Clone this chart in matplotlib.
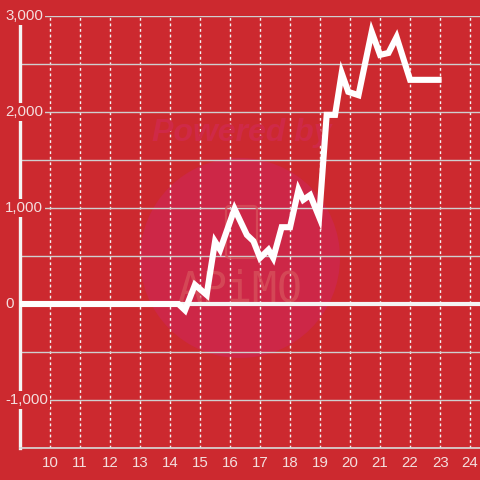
import matplotlib.pyplot as plt
from matplotlib.patches import Circle, FancyBboxPatch
from matplotlib.transforms import blended_transform_factory

# values
hours = [9.0, 14.28, 14.5, 14.83, 15.22, 15.5, 15.67, 16.15, 16.56, 16.78,
         17.0, 17.28, 17.44, 17.72, 18.0, 18.28, 18.44, 18.67, 18.97, 19.22,
         19.5, 19.72, 19.94, 20.28, 20.72, 21.0, 21.28, 21.55, 22.0, 23.05]
values = [0, 0, -65, 200, 95, 650, 565, 990, 720, 655,
          480, 565, 480, 800, 800, 1190, 1085, 1135, 905, 1970,
          1970, 2405, 2210, 2175, 2835, 2595, 2615, 2780, 2335, 2335]
x_ticks = list(range(10, 25))
y_grid = [-1500, -1000, -500, 0, 500, 1000, 1500, 2000, 2500, 3000]
y_labels = [-1000, 0, 1000, 2000, 3000]

bg = '#cc292f'
txt = '#f4dede'
mark = '#d6505a'

plt.rcParams['font.family'] = ['Liberation Sans', 'DejaVu Sans']

fig = plt.figure(figsize=(4.8, 4.8), dpi=100, facecolor=bg)
ax = fig.add_axes([20/480, 32/480, 460/480, 432/480])
ax.set_facecolor(bg)

# watermark, kept under the grid and the line
ax.add_patch(Circle((0.5, 1 - 258/480), 100/480, transform=fig.transFigure,
                    facecolor='#cd2747', edgecolor='none', zorder=0.5))
ax.add_patch(FancyBboxPatch((226/480, 1 - 258/480), 31/480, 52/480,
                            boxstyle='round,pad=0,rounding_size=0.008',
                            transform=fig.transFigure, facecolor='none',
                            edgecolor=mark, lw=1.6, zorder=0.6, alpha=0.8))
ax.text(0.503, 1 - 133/480, 'Powered by', transform=fig.transFigure,
        ha='center', va='center', fontsize=23, fontweight='bold',
        fontstyle='italic', color='#cf2947', zorder=0.6)
ax.text(0.5, 1 - 290/480, 'APiMO', transform=fig.transFigure, ha='center', va='center',
        fontsize=30, family='DejaVu Sans Mono', color=mark, alpha=0.8, zorder=0.6)

ax.set_xlim(9, 24.33)
ax.set_ylim(-1500, 3000)

ax.set_xticks(x_ticks)
ax.set_xticklabels([str(t) for t in x_ticks])
ax.set_yticks(y_grid)
ax.set_yticklabels([])
ax.tick_params(axis='x', length=0, pad=6, labelsize=10.8, labelcolor=txt)
ax.tick_params(axis='y', length=0)

ax.grid(axis='y', color='#cfcfcf', lw=1.0)
ax.grid(axis='x', color='#f4f4f4', lw=1.0, linestyle=(0, (2, 2)))
ax.set_axisbelow(True)

for s in ['top', 'right']:
    ax.spines[s].set_visible(False)
ax.spines['left'].set_color('#f4f4f4')
ax.spines['left'].set_linewidth(2.4)
ax.spines['bottom'].set_color('#d8d8d8')
ax.spines['bottom'].set_linewidth(1.2)

# y labels sit over the left spine with a background box
tr = blended_transform_factory(fig.transFigure, ax.transData)
for v in y_labels:
    ax.text(5/480, v, f'{v:,}', transform=tr, ha='left', va='center',
            fontsize=10.8, color=txt, zorder=6,
            bbox=dict(facecolor=bg, edgecolor='none', pad=1.5), clip_on=False)

ax.axhline(0, color='#f4f4f4', lw=3, zorder=2)
ax.plot(hours, values, color='white', lw=4.4, solid_joinstyle='miter',
        solid_capstyle='butt', zorder=3)

fig.savefig('out.png', dpi=100, facecolor=bg)
